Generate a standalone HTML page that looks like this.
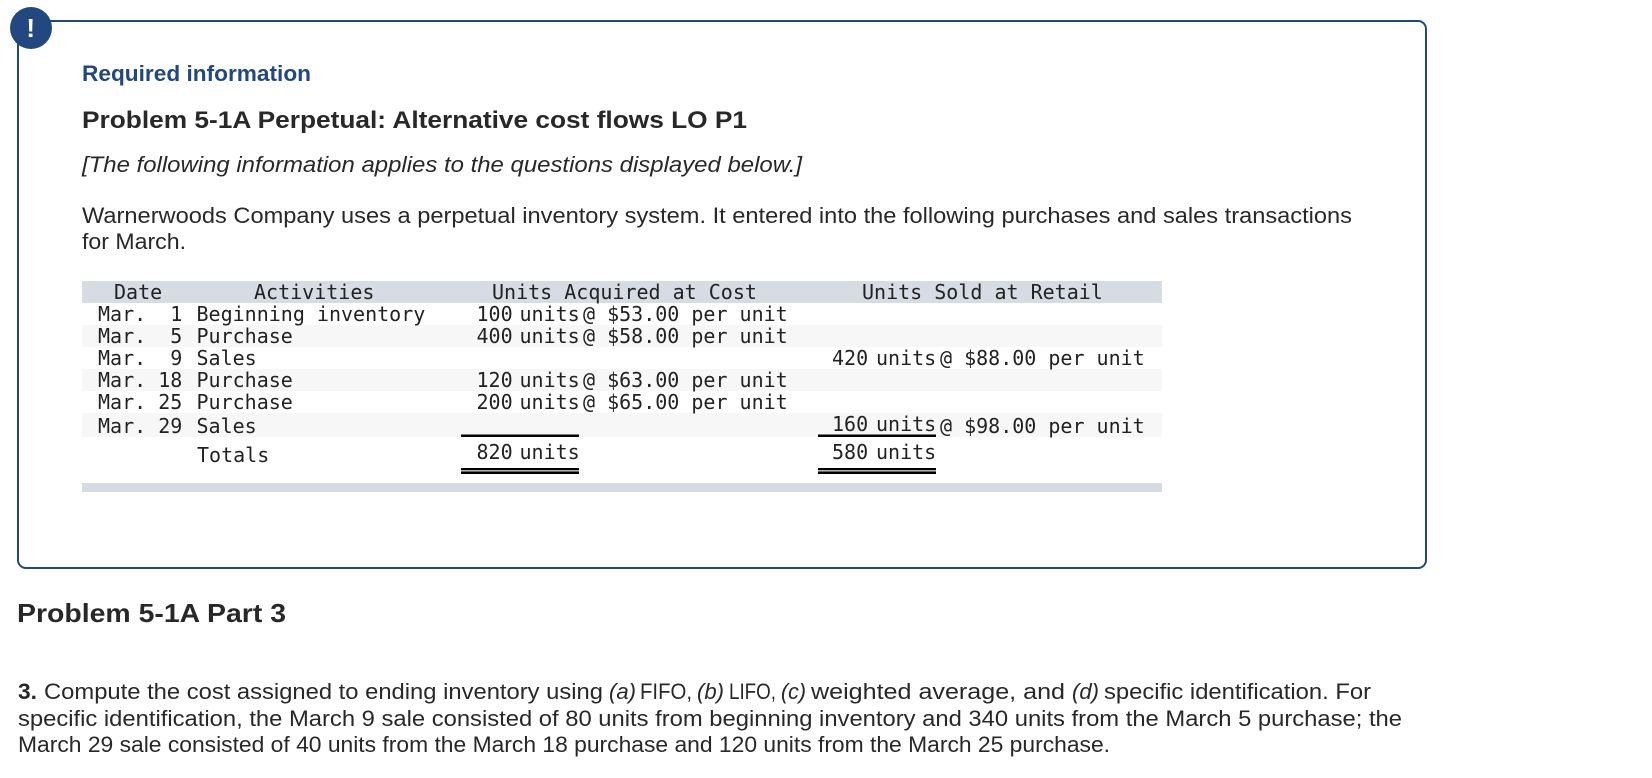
<!DOCTYPE html>
<html lang="en">
<head>
<meta charset="utf-8">
<title>Problem 5-1A Perpetual: Alternative cost flows</title>
<style>
html,body{margin:0;padding:0;background:#fff;width:1652px;height:778px;overflow:hidden}
svg{display:block}
.b{font-family:"Liberation Sans",sans-serif;fill:#282828;font-size:22px}
.h{font-weight:bold}
.i{font-style:italic}
.m{font-family:"DejaVu Sans Mono","Liberation Mono",monospace;font-size:20px;fill:#222;white-space:pre}
</style>
</head>
<body>
<svg xmlns="http://www.w3.org/2000/svg" width="1652" height="778" viewBox="0 0 1652 778">
<rect x="18" y="21" width="1408" height="547" rx="8" fill="#fff" stroke="#22487f" stroke-width="2"/>
<circle cx="31" cy="28" r="21" fill="#22487f"/>
<text x="30.700" y="37" text-anchor="middle" style="font-family:'Liberation Sans',sans-serif;font-weight:bold;font-size:26px;fill:#fff">!</text>

<text class="b h" x="82" y="81" textLength="229" lengthAdjust="spacingAndGlyphs" style="fill:#22487f">Required information</text>
<text class="b h" x="82" y="128" textLength="665" lengthAdjust="spacingAndGlyphs" style="font-size:24px">Problem 5-1A Perpetual: Alternative cost flows LO P1</text>
<text class="b i" x="82" y="172" textLength="720" lengthAdjust="spacingAndGlyphs">[The following information applies to the questions displayed below.]</text>
<text class="b" x="82" y="223" textLength="1270" lengthAdjust="spacingAndGlyphs">Warnerwoods Company uses a perpetual inventory system. It entered into the following purchases and sales transactions</text>
<text class="b" x="82" y="249" textLength="104" lengthAdjust="spacingAndGlyphs">for March.</text>

<g>
<rect x="82" y="281" width="1080" height="22" fill="#d7dbe4"/>
<rect x="82" y="325" width="1080" height="22" fill="#f7f7f7"/>
<rect x="82" y="369" width="1080" height="22" fill="#f7f7f7"/>
<rect x="82" y="413" width="1080" height="24" fill="#f7f7f7"/>
<rect x="82" y="483" width="1080" height="9" fill="#d7dbe4"/>

<text class="m" x="114" y="299">Date</text>
<text class="m" x="254" y="299">Activities</text>
<text class="m" x="492" y="299">Units Acquired at Cost</text>
<text class="m" x="862" y="299">Units Sold at Retail</text>

<text class="m" x="98" y="321">Mar.  1</text>
<text class="m" x="196.500" y="321">Beginning inventory</text>
<text class="m" x="476.500" y="321">100</text>
<text class="m" x="519.500" y="321">units</text>
<text class="m" x="583" y="321">@ $53.00 per unit</text>

<text class="m" x="98" y="343">Mar.  5</text>
<text class="m" x="196.500" y="343">Purchase</text>
<text class="m" x="476.500" y="343">400</text>
<text class="m" x="519.500" y="343">units</text>
<text class="m" x="583" y="343">@ $58.00 per unit</text>

<text class="m" x="98" y="365">Mar.  9</text>
<text class="m" x="196.500" y="365">Sales</text>
<text class="m" x="832" y="365">420</text>
<text class="m" x="876" y="365">units</text>
<text class="m" x="940" y="365">@ $88.00 per unit</text>

<text class="m" x="98" y="387">Mar. 18</text>
<text class="m" x="196.500" y="387">Purchase</text>
<text class="m" x="476.500" y="387">120</text>
<text class="m" x="519.500" y="387">units</text>
<text class="m" x="583" y="387">@ $63.00 per unit</text>

<text class="m" x="98" y="409">Mar. 25</text>
<text class="m" x="196.500" y="409">Purchase</text>
<text class="m" x="476.500" y="409">200</text>
<text class="m" x="519.500" y="409">units</text>
<text class="m" x="583" y="409">@ $65.00 per unit</text>

<text class="m" x="98" y="433">Mar. 29</text>
<text class="m" x="196.500" y="433">Sales</text>
<text class="m" x="832" y="431">160</text>
<text class="m" x="876" y="431">units</text>
<text class="m" x="940" y="433">@ $98.00 per unit</text>

<rect x="461" y="434.500" width="118" height="2.500" fill="#000"/>
<rect x="818" y="434.500" width="118" height="2.500" fill="#000"/>

<text class="m" x="197" y="462">Totals</text>
<text class="m" x="476.500" y="459">820</text>
<text class="m" x="519.500" y="459">units</text>
<text class="m" x="832" y="459">580</text>
<text class="m" x="876" y="459">units</text>

<rect x="461" y="468" width="118" height="2.300" fill="#000"/>
<rect x="461" y="471.400" width="118" height="2.600" fill="#000"/>
<rect x="818" y="468" width="118" height="2.300" fill="#000"/>
<rect x="818" y="471.400" width="118" height="2.600" fill="#000"/>
</g>

<text class="b h" x="17" y="622" textLength="269" lengthAdjust="spacingAndGlyphs" style="font-size:26px">Problem 5-1A Part 3</text>

<g>
<text class="b h" x="18" y="699" textLength="19" lengthAdjust="spacingAndGlyphs">3.</text>
<text class="b" x="44" y="699" textLength="559" lengthAdjust="spacingAndGlyphs">Compute the cost assigned to ending inventory using</text>
<text class="b i" x="609" y="699" textLength="27" lengthAdjust="spacingAndGlyphs">(a)</text>
<text class="b" x="640" y="699" textLength="52" lengthAdjust="spacingAndGlyphs">FIFO,</text>
<text class="b i" x="697" y="699" textLength="27" lengthAdjust="spacingAndGlyphs">(b)</text>
<text class="b" x="729" y="699" textLength="47" lengthAdjust="spacingAndGlyphs">LIFO,</text>
<text class="b i" x="781" y="699" textLength="25" lengthAdjust="spacingAndGlyphs">(c)</text>
<text class="b" x="811" y="699" textLength="254" lengthAdjust="spacingAndGlyphs">weighted average, and</text>
<text class="b i" x="1072" y="699" textLength="27" lengthAdjust="spacingAndGlyphs">(d)</text>
<text class="b" x="1104" y="699" textLength="267" lengthAdjust="spacingAndGlyphs">specific identification. For</text>
<text class="b" x="18" y="726" textLength="1384" lengthAdjust="spacingAndGlyphs">specific identification, the March 9 sale consisted of 80 units from beginning inventory and 340 units from the March 5 purchase; the</text>
<text class="b" x="18" y="752" textLength="1092" lengthAdjust="spacingAndGlyphs">March 29 sale consisted of 40 units from the March 18 purchase and 120 units from the March 25 purchase.</text>
</g>
</svg>
</body>
</html>
